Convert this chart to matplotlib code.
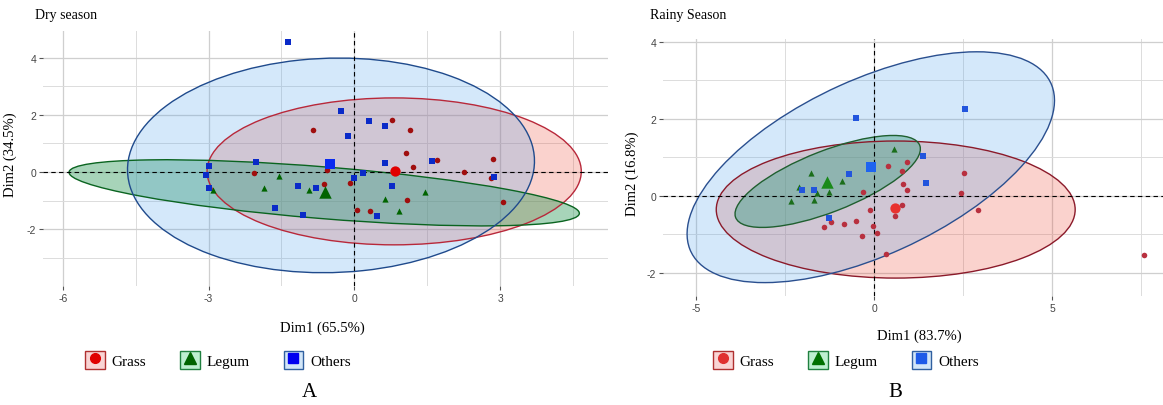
import matplotlib
matplotlib.use("Agg")
from matplotlib import pyplot as plt
from matplotlib.patches import Ellipse, Patch
from matplotlib.lines import Line2D
from matplotlib.legend_handler import HandlerTuple

plt.rcParams['font.family'] = ['Liberation Serif', 'DejaVu Serif']
plt.rcParams['axes.unicode_minus'] = False

groups = ["Grass", "Legum", "Others"]

# ---- A: dry season (Dim1 65.5%, Dim2 34.5%)
dry_grass_x = [-2.06, -0.84, 0.77, 1.15, 1.06, 1.21, 1.70, 2.26, 2.86, 2.81, 3.05, -0.57, -0.09, -0.62, 1.09, 0.05, 0.32]
dry_grass_y = [-0.03, 1.47, 1.81, 1.47, 0.66, 0.19, 0.41, 0.00, 0.45, -0.21, -1.04, 0.06, -0.40, -0.43, -0.97, -1.34, -1.37]
dry_legum_x = [-2.90, -1.86, -1.56, -0.93, 0.64, 1.46, 0.91]
dry_legum_y = [-0.62, -0.57, -0.15, -0.63, -0.94, -0.69, -1.35]
dry_others_x = [-1.36, -2.98, -3.05, -2.99, -2.02, -1.64, -1.15, -0.28, -0.14, 0.31, 0.63, 0.63, 1.59, 2.88, 0.18, 0.00, -0.79, 0.77, 0.46, -1.05]
dry_others_y = [4.55, 0.22, -0.10, -0.56, 0.34, -1.27, -0.48, 2.12, 1.25, 1.77, 1.62, 0.31, 0.37, -0.16, -0.03, -0.22, -0.55, -0.48, -1.55, -1.50]
dry_cent_x = [0.83, -0.60, -0.50]
dry_cent_y = [0.03, -0.69, 0.29]
# ellipses: centre, semi axes, angle (deg)
dry_ell_cx = [0.82, -0.62, -0.48]
dry_ell_cy = [0.02, -0.73, 0.23]
dry_ell_a = [3.85, 5.30, 4.20]
dry_ell_b = [2.57, 0.90, 3.74]
dry_ell_ang = [0, -8, 10]

# ---- B: rainy season (Dim1 83.7%, Dim2 16.8%)
rainy_grass_x = [-0.31, -1.22, -1.41, -0.84, -0.52, -0.12, -0.04, -0.34, 0.07, 0.39, 0.91, 0.78, 0.80, 0.91, 0.78, 0.59, 0.32, 2.53, 2.43, 2.91, 7.58]
rainy_grass_y = [0.10, -0.68, -0.82, -0.74, -0.66, -0.36, -0.80, -1.05, -0.97, 0.78, 0.87, 0.65, 0.30, 0.15, -0.24, -0.54, -1.51, 0.59, 0.08, -0.37, -1.53]
rainy_legum_x = [-1.79, -0.92, -1.28, -2.13, -2.35, -1.69, -1.62, 0.56]
rainy_legum_y = [0.59, 0.37, 0.09, 0.23, -0.13, -0.10, 0.07, 1.21]
rainy_others_x = [-0.52, -0.72, -2.03, -1.69, -1.27, 2.55, 1.37, 1.44]
rainy_others_y = [2.02, 0.56, 0.16, 0.16, -0.58, 2.25, 1.03, 0.34]
rainy_cent_x = [0.59, -1.34, -0.10]
rainy_cent_y = [-0.33, 0.35, 0.74]
rainy_ell_cx = [0.60, -1.31, -0.10]
rainy_ell_cy = [-0.36, 0.37, 0.74]
rainy_ell_a = [5.04, 2.75, 5.51]
rainy_ell_b = [1.78, 0.80, 2.29]
rainy_ell_ang = [0, 19.7, 22.7]

markers = ["o", "^", "s"]
fill_cols = ["#EC4C38", "#2E9A5A", "#54A4EC"]
fill_alpha = [0.25, 0.42, 0.25]

fig = plt.figure(figsize=(11.63, 4.06), dpi=100)
axA = fig.add_axes([0.037, 0.2931, 0.4858, 0.628])
axB = fig.add_axes([0.5701, 0.2685, 0.43, 0.633])


def draw_panel(ax, xs, ys, cx, cy, ecx, ecy, ea, eb, eang, edge_cols, pt_cols, cent_cols,
               xlim, ylim, xmaj, xmin, ymaj, ymin, xlab, ylab):
    for i in range(3):
        ax.add_patch(Ellipse((ecx[i], ecy[i]), 2 * ea[i], 2 * eb[i], angle=eang[i],
                             facecolor=fill_cols[i], alpha=fill_alpha[i], edgecolor="none", zorder=1 + i))
        ax.add_patch(Ellipse((ecx[i], ecy[i]), 2 * ea[i], 2 * eb[i], angle=eang[i],
                             facecolor="none", edgecolor=edge_cols[i], lw=1.0, zorder=4))
    ax.axhline(0, color="black", lw=0.8, ls=(0, (4, 3)), zorder=5)
    ax.axvline(0, color="black", lw=0.8, ls=(0, (4, 3)), zorder=5)
    sizes = [16, 20, 18]
    csizes = [55, 80, 60]
    for i in range(3):
        ax.scatter(xs[i], ys[i], marker=markers[i], s=sizes[i], color=pt_cols[i], lw=0, zorder=6)
        ax.scatter(cx[i], cy[i], marker=markers[i], s=csizes[i], color=cent_cols[i], lw=0, zorder=7)
    ax.set_xlim(xlim)
    ax.set_ylim(ylim)
    ax.set_xticks(xmaj)
    ax.set_xticks(xmin, minor=True)
    ax.set_yticks(ymaj)
    ax.set_yticks(ymin, minor=True)
    ax.grid(which="major", color="#CFCFCF", lw=0.9)
    ax.grid(which="minor", color="#DCDCDC", lw=0.7)
    ax.set_axisbelow(True)
    for s in ax.spines.values():
        s.set_visible(False)
    ax.tick_params(which="major", length=3, width=0.8, color="#555555", labelsize=7.5,
                   labelcolor="#444444", pad=2)
    ax.tick_params(which="minor", length=0)
    for lab in ax.get_xticklabels() + ax.get_yticklabels():
        lab.set_family("Liberation Sans")
    ax.set_xlabel(xlab, fontsize=10.5)
    ax.set_ylabel(ylab, fontsize=10.5)


draw_panel(axA, [dry_grass_x, dry_legum_x, dry_others_x], [dry_grass_y, dry_legum_y, dry_others_y],
           dry_cent_x, dry_cent_y, dry_ell_cx, dry_ell_cy, dry_ell_a, dry_ell_b, dry_ell_ang,
           ["#B8283A", "#0A6420", "#1F4A8C"], ["#A00E0E", "#006400", "#0A2AC8"],
           ["#E00000", "#006400", "#0A2AF0"],
           (-6.405, 5.22), (-3.99, 4.93), [-6, -3, 0, 3], [-4.5, -1.5, 1.5, 4.5],
           [-2, 0, 2, 4], [-3, -1, 1, 3], "Dim1 (65.5%)", "Dim2 (34.5%)")
axA.xaxis.set_label_coords(0.494, -0.137)
axA.yaxis.set_label_coords(-0.046, 0.52)

draw_panel(axB, [rainy_grass_x, rainy_legum_x, rainy_others_x], [rainy_grass_y, rainy_legum_y, rainy_others_y],
           rainy_cent_x, rainy_cent_y, rainy_ell_cx, rainy_ell_cy, rainy_ell_a, rainy_ell_b, rainy_ell_ang,
           ["#8B1A2A", "#1F5F2F", "#2A4F8F"], ["#B8303F", "#1B6E1B", "#2255DD"],
           ["#E8322E", "#1A8A1A", "#1E64F0"],
           (-5.935, 8.11), (-2.605, 4.07), [-5, 0, 5], [-2.5, 2.5, 7.5],
           [-2, 0, 2, 4], [-1, 1, 3], "Dim1 (83.7%)", "Dim2 (16.8%)")
axB.xaxis.set_label_coords(0.512, -0.125)
axB.yaxis.set_label_coords(-0.048, 0.48)

fig.text(35 / 1163, 1 - 15 / 406, "Dry season", fontsize=10, ha="left", va="center")
fig.text(650 / 1163, 1 - 15 / 406, "Rainy Season", fontsize=10, ha="left", va="center")

# legends
box_faces = ["#F9D4D4", "#BDEFD0", "#D2E6F8"]
boxA_edges = ["#B03030", "#208040", "#3060A0"]
mkA_cols = ["#E00000", "#006400", "#0000F0"]
mkB_cols = ["#E03030", "#007000", "#1E5BE8"]
mk_sizes = [7, 9, 7.5]


def make_legend(mk_cols, xcen):
    handles = [(Patch(facecolor=box_faces[i], edgecolor=boxA_edges[i], lw=1.0),
                Line2D([], [], marker=markers[i], ls="none", color=mk_cols[i], markersize=mk_sizes[i]))
               for i in range(3)]
    fig.legend(handles, groups, handler_map={tuple: HandlerTuple(ndivide=1, pad=0)}, ncol=3,
               loc="center", bbox_to_anchor=(xcen, 0.111), frameon=False, fontsize=11,
               handlelength=1.3, handleheight=1.45, handletextpad=0.45, columnspacing=2.2)


make_legend(mkA_cols, 218 / 1163)
make_legend(mkB_cols, 846 / 1163)

fig.text(309 / 1163, 1 - 393 / 406, "A", fontsize=15, ha="center", va="center")
fig.text(895 / 1163, 1 - 393 / 406, "B", fontsize=15, ha="center", va="center")

fig.savefig("out.png", dpi=100)
